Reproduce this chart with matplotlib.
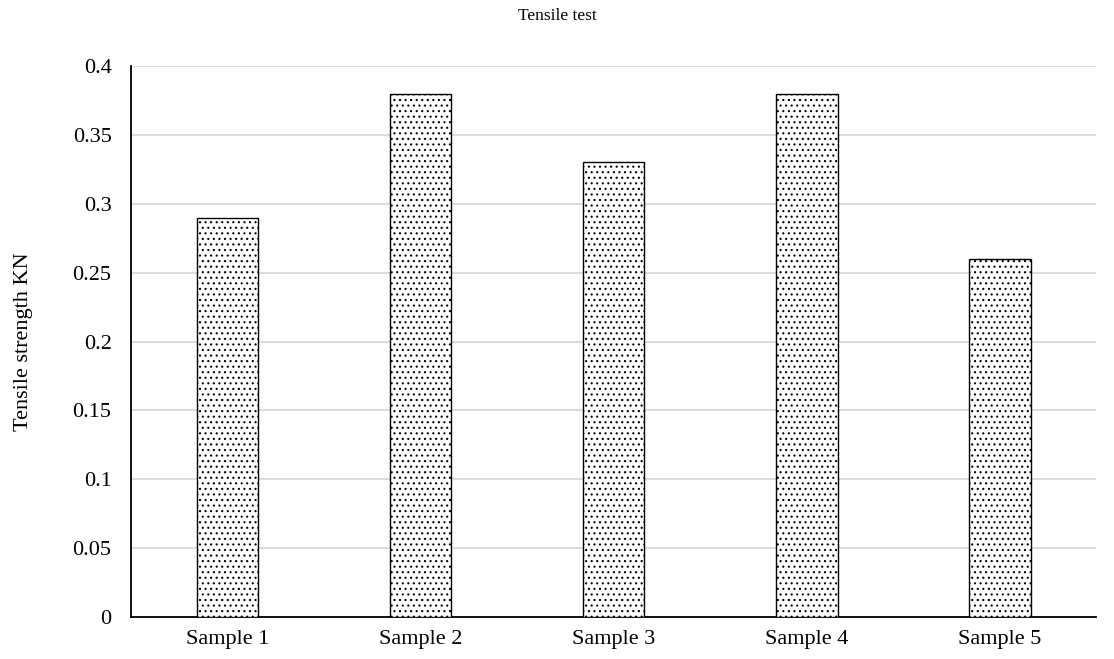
import matplotlib
matplotlib.use("Agg")
import matplotlib.pyplot as plt

categories = ["Sample 1", "Sample 2", "Sample 3", "Sample 4", "Sample 5"]
values = [0.29, 0.38, 0.33, 0.38, 0.26]
yticks = [0, 0.05, 0.1, 0.15, 0.2, 0.25, 0.3, 0.35, 0.4]
ytick_labels = ["0", "0.05", "0.1", "0.15", "0.2", "0.25", "0.3", "0.35", "0.4"]

plt.rcParams['font.family'] = ['Liberation Serif', 'DejaVu Serif']
plt.rcParams['hatch.linewidth'] = 0.8

fig = plt.figure(figsize=(11.14, 6.59), dpi=100)
ax = fig.add_axes([0.1176, 0.0637, 0.8664, 0.8361])

x = range(len(categories))
ax.bar(x, values, width=0.32, color="white", edgecolor="black", hatch="...", linewidth=1.0, zorder=3)

ax.set_xlim(-0.5, len(categories) - 0.5)
ax.set_ylim(0, 0.4)
ax.set_yticks(yticks)
ax.set_yticklabels(ytick_labels)
ax.set_xticks(list(x))
ax.set_xticklabels(categories)
ax.tick_params(axis='both', length=0, labelsize=16)
ax.tick_params(axis='y', pad=14)
ax.tick_params(axis='x', pad=9)
ax.yaxis.grid(True, color="#d9d9d9", linewidth=1.3, zorder=0)
ax.set_axisbelow(True)
for s in ["top", "right"]:
    ax.spines[s].set_visible(False)
ax.spines["left"].set_linewidth(1.3)
ax.spines["bottom"].set_linewidth(1.3)
ax.set_ylabel("Tensile strength KN", fontsize=16)
ax.yaxis.set_label_coords(-0.102, 0.5)
fig.text(0.5, 0.975, "Tensile test", ha="center", va="center", fontsize=12.5)

fig.savefig("out.png", dpi=100)
